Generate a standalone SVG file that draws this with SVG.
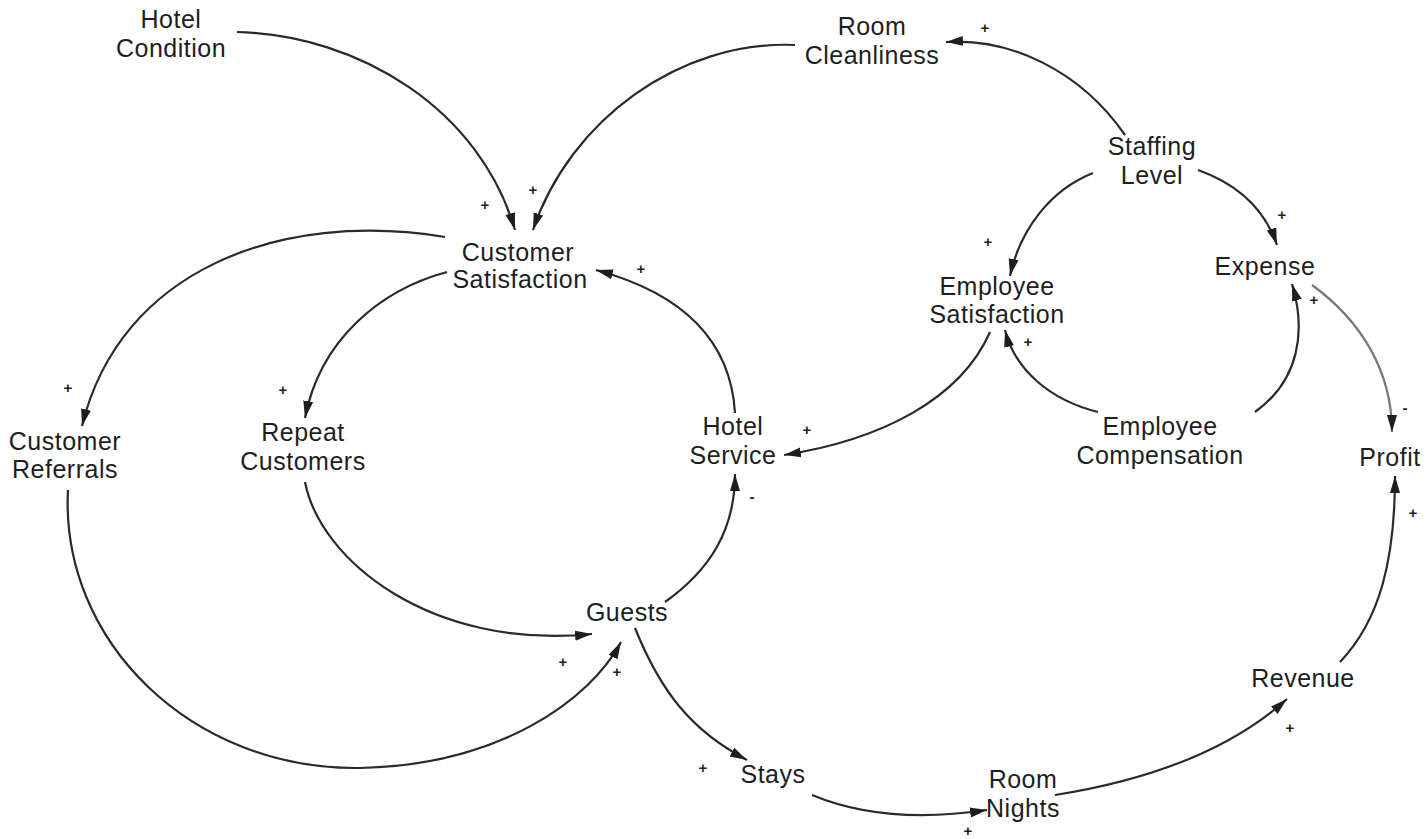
<svg xmlns="http://www.w3.org/2000/svg" width="1428" height="839" viewBox="0 0 1428 839">
<style>
.lbl{font-family:"Liberation Sans",Arial,sans-serif;font-size:25px;letter-spacing:0.5px;fill:#1e1e1e;text-anchor:middle}
.sg{font-family:"Liberation Sans",Arial,sans-serif;font-size:15px;font-weight:bold;fill:#1e1e1e;text-anchor:middle}
.c{fill:none;stroke:#2a2a2a;stroke-width:2.2;marker-end:url(#ah)}
.g{stroke:#777}
</style>
<defs>
<marker id="ah" markerUnits="userSpaceOnUse" markerWidth="20" markerHeight="12" refX="17" refY="6" orient="auto">
<path d="M0,1 L17,6 L0,11 Z" fill="#1e1e1e"/>
</marker>
</defs>
<rect width="1428" height="839" fill="#fff"/>
<g id="connectors">
<path class="c" d="M237,32 C360,35 480,110 515,230"/>
<path class="c" d="M795,45 C680,40 570,120 533,230"/>
<path class="c" d="M1125,135 C1080,70 1010,38 946,42"/>
<path class="c" d="M1093,173 C1050,190 1020,230 1010,276"/>
<path class="c" d="M1198,170 C1240,185 1265,210 1277,245"/>
<path class="c g" d="M1312,285 C1360,320 1392,370 1392,432"/>
<path class="c" d="M1255,412 C1300,380 1306,330 1292,284"/>
<path class="c" d="M1098,412 C1050,400 1015,370 1005,330"/>
<path class="c" d="M990,332 C960,400 880,440 784,455"/>
<path class="c" d="M735,413 C730,330 670,290 596,270"/>
<path class="c" d="M665,602 C710,570 735,530 735,474"/>
<path class="c" d="M445,237 C280,210 120,270 82,426"/>
<path class="c" d="M447,272 C380,290 320,340 305,418"/>
<path class="c" d="M305,482 C320,560 430,650 592,634"/>
<path class="c" d="M68,490 C60,640 190,770 360,768 C500,765 590,700 621,642"/>
<path class="c" d="M635,628 C660,690 690,730 747,760"/>
<path class="c" d="M812,795 C860,815 920,820 987,810"/>
<path class="c" d="M1055,795 C1150,780 1230,750 1287,699"/>
<path class="c" d="M1340,662 C1380,620 1395,560 1395,476"/>
</g>
<g id="signs">
<text class="sg" x="485" y="210">+</text>
<text class="sg" x="533" y="195">+</text>
<text class="sg" x="641" y="274">+</text>
<text class="sg" x="985" y="33">+</text>
<text class="sg" x="988" y="247">+</text>
<text class="sg" x="1282" y="220">+</text>
<text class="sg" x="1314" y="305">+</text>
<text class="sg" x="1028" y="347">+</text>
<text class="sg" x="807" y="435">+</text>
<text class="sg" x="752" y="502">-</text>
<text class="sg" x="1405" y="413">-</text>
<text class="sg" x="1413" y="518">+</text>
<text class="sg" x="68" y="393">+</text>
<text class="sg" x="283" y="395">+</text>
<text class="sg" x="563" y="667">+</text>
<text class="sg" x="617" y="677">+</text>
<text class="sg" x="703" y="773">+</text>
<text class="sg" x="968" y="836">+</text>
<text class="sg" x="1290" y="733">+</text>
</g>
<g id="hotel-condition"><text class="lbl" x="171" y="28">Hotel</text><text class="lbl" x="171" y="57">Condition</text></g>
<g id="room-cleanliness"><text class="lbl" x="872" y="35">Room</text><text class="lbl" x="872" y="64">Cleanliness</text></g>
<g id="staffing-level"><text class="lbl" x="1152" y="155">Staffing</text><text class="lbl" x="1152" y="184">Level</text></g>
<g id="customer-satisfaction"><text class="lbl" x="518" y="261">Customer</text><text class="lbl" x="520" y="288">Satisfaction</text></g>
<g id="expense"><text class="lbl" x="1265" y="275">Expense</text></g>
<g id="employee-satisfaction"><text class="lbl" x="997" y="295">Employee</text><text class="lbl" x="997" y="323">Satisfaction</text></g>
<g id="customer-referrals"><text class="lbl" x="65" y="450">Customer</text><text class="lbl" x="65" y="478">Referrals</text></g>
<g id="repeat-customers"><text class="lbl" x="303" y="441">Repeat</text><text class="lbl" x="303" y="470">Customers</text></g>
<g id="hotel-service"><text class="lbl" x="733" y="435">Hotel</text><text class="lbl" x="733" y="464">Service</text></g>
<g id="employee-compensation"><text class="lbl" x="1160" y="435">Employee</text><text class="lbl" x="1160" y="464">Compensation</text></g>
<g id="profit"><text class="lbl" x="1390" y="466">Profit</text></g>
<g id="guests"><text class="lbl" x="627" y="621">Guests</text></g>
<g id="revenue"><text class="lbl" x="1303" y="687">Revenue</text></g>
<g id="stays"><text class="lbl" x="773" y="783">Stays</text></g>
<g id="room-nights"><text class="lbl" x="1023" y="788">Room</text><text class="lbl" x="1023" y="817">Nights</text></g>
</svg>
